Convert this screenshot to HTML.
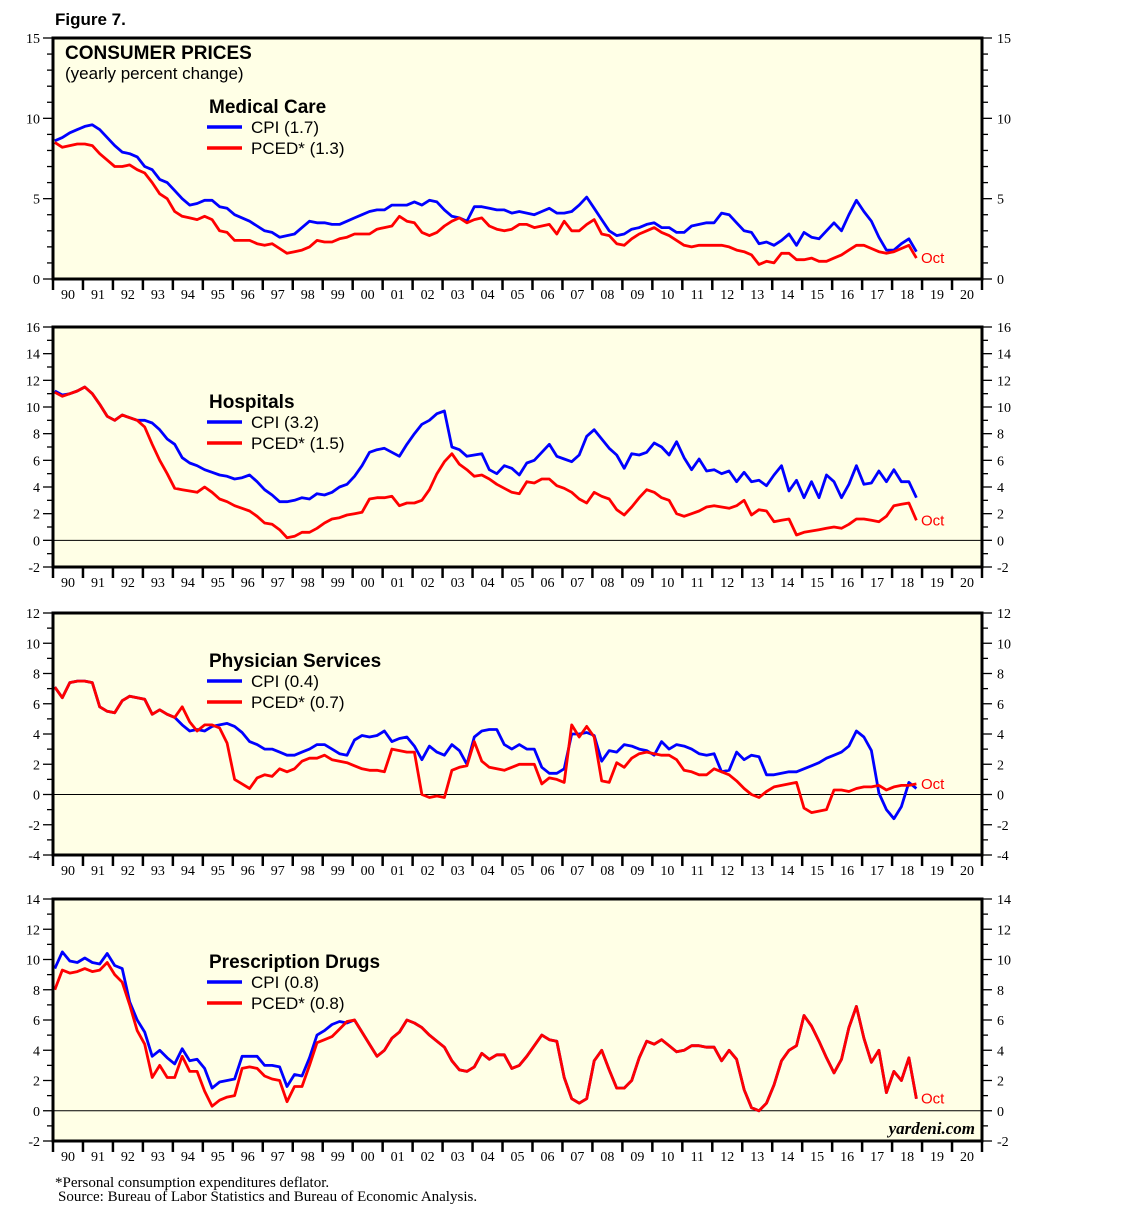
<!DOCTYPE html>
<html><head><meta charset="utf-8">
<style>
html,body{margin:0;padding:0;background:#fff;}
body{width:1138px;height:1217px;overflow:hidden;position:relative;}
svg text{font-family:"Liberation Serif",serif;}
.sans{font-family:"Liberation Sans",sans-serif !important;}
</style></head>
<body>
<svg id="chart" width="1138" height="1217" viewBox="0 0 1138 1217" xmlns="http://www.w3.org/2000/svg">
<text class="sans" x="55" y="25" font-size="17" font-weight="bold">Figure 7.</text>
<text x="55" y="1187" font-size="15">*Personal consumption expenditures deflator.</text>
<text x="58" y="1201" font-size="15">Source: Bureau of Labor Statistics and Bureau of Economic Analysis.</text>
</svg>
<script>
const yearLabels = ["90","91","92","93","94","95","96","97","98","99","00","01","02","03","04","05","06","07","08","09","10","11","12","13","14","15","16","17","18","19","20"];

const medCpi = [8.6,8.8,9.1,9.3, 9.5,9.6,9.3,8.8, 8.3,7.9,7.8,7.6, 7.0,6.8,6.2,6.0, 5.5,5.0,4.6,4.7, 4.9,4.9,4.5,4.4, 4.0,3.8,3.6,3.3, 3.0,2.9,2.6,2.7, 2.8,3.2,3.6,3.5, 3.5,3.4,3.4,3.6, 3.8,4.0,4.2,4.3, 4.3,4.6,4.6,4.6, 4.8,4.6,4.9,4.8, 4.3,3.9,3.8,3.6, 4.5,4.5,4.4,4.3, 4.3,4.1,4.2,4.1, 4.0,4.2,4.4,4.1, 4.1,4.2,4.6,5.1, 4.4,3.7,3.0,2.7, 2.8,3.1,3.2,3.4, 3.5,3.2,3.2,2.9, 2.9,3.3,3.4,3.5, 3.5,4.1,4.0,3.5, 3.0,2.9,2.2,2.3, 2.1,2.4,2.8,2.1, 2.9,2.6,2.5,3.0, 3.5,3.0,4.0,4.9, 4.2,3.6,2.6,1.8, 1.8,2.2,2.5,1.7];
const medPced = [8.5,8.2,8.3,8.4, 8.4,8.3,7.8,7.4, 7.0,7.0,7.1,6.8, 6.6,6.0,5.3,5.0, 4.2,3.9,3.8,3.7, 3.9,3.7,3.0,2.9, 2.4,2.4,2.4,2.2, 2.1,2.2,1.9,1.6, 1.7,1.8,2.0,2.4, 2.3,2.3,2.5,2.6, 2.8,2.8,2.8,3.1, 3.2,3.3,3.9,3.6, 3.5,2.9,2.7,2.9, 3.3,3.6,3.8,3.5, 3.7,3.8,3.3,3.1, 3.0,3.1,3.4,3.4, 3.2,3.3,3.4,2.8, 3.6,3.0,3.0,3.4, 3.7,2.8,2.7,2.2, 2.1,2.5,2.8,3.0, 3.2,2.9,2.7,2.4, 2.1,2.0,2.1,2.1, 2.1,2.1,2.0,1.8, 1.7,1.5,0.9,1.1, 1.0,1.6,1.6,1.2, 1.2,1.3,1.1,1.1, 1.3,1.5,1.8,2.1, 2.1,1.9,1.7,1.6, 1.7,1.9,2.1,1.3];

const hospCpi = [11.2,10.9,11.0,11.2, 11.5,11.0,10.2,9.3, 9.0,9.4,9.2,9.0, 9.0,8.8,8.3,7.6, 7.2,6.2,5.8,5.6, 5.3,5.1,4.9,4.8, 4.6,4.7,4.9,4.4, 3.8,3.4,2.9,2.9, 3.0,3.2,3.1,3.5, 3.4,3.6,4.0,4.2, 4.8,5.6,6.6,6.8, 6.9,6.6,6.3,7.2, 8.0,8.7,9.0,9.5, 9.7,7.0,6.8,6.3, 6.4,6.5,5.3,5.0, 5.6,5.4,4.9,5.8, 6.0,6.6,7.2,6.3, 6.1,5.9,6.4,7.8, 8.3,7.6,6.9,6.4, 5.4,6.5,6.4,6.6, 7.3,7.0,6.4,7.4, 6.2,5.3,6.1,5.2, 5.3,5.0,5.2,4.4, 5.1,4.4,4.5,4.1, 4.9,5.6,3.7,4.5, 3.2,4.4,3.2,4.9, 4.4,3.2,4.2,5.6, 4.2,4.3,5.2,4.4, 5.3,4.4,4.4,3.2];
const hospPced = [11.1,10.8,11.0,11.2, 11.5,11.0,10.2,9.3, 9.0,9.4,9.2,9.0, 8.5,7.2,6.0,5.0, 3.9,3.8,3.7,3.6, 4.0,3.6,3.1,2.9, 2.6,2.4,2.2,1.8, 1.3,1.2,0.8,0.2, 0.3,0.6,0.6,0.9, 1.3,1.6,1.7,1.9, 2.0,2.1,3.1,3.2, 3.2,3.3,2.6,2.8, 2.8,3.0,3.8,5.0, 5.9,6.5,5.7,5.3, 4.8,4.9,4.6,4.2, 3.9,3.6,3.5,4.4, 4.3,4.6,4.6,4.1, 3.9,3.6,3.1,2.8, 3.6,3.3,3.1,2.3, 1.9,2.5,3.2,3.8, 3.6,3.2,3.0,2.0, 1.8,2.0,2.2,2.5, 2.6,2.5,2.4,2.6, 3.0,1.9,2.3,2.2, 1.4,1.5,1.6,0.4, 0.6,0.7,0.8,0.9, 1.0,0.9,1.2,1.6, 1.6,1.5,1.4,1.8, 2.6,2.7,2.8,1.5];

const physCpi = [7.1,6.4,7.4,7.5, 7.5,7.4,5.8,5.5, 5.4,6.2,6.5,6.4, 6.3,5.3,5.6,5.3, 5.1,4.6,4.2,4.3, 4.2,4.5,4.6,4.7, 4.5,4.1,3.5,3.3, 3.0,3.0,2.8,2.6, 2.6,2.8,3.0,3.3, 3.3,3.0,2.7,2.6, 3.6,3.9,3.8,3.9, 4.2,3.5,3.7,3.8, 3.2,2.3,3.2,2.8, 2.6,3.3,2.9,2.0, 3.8,4.2,4.3,4.3, 3.3,3.0,3.3,3.0, 3.0,1.8,1.4,1.4, 1.7,4.0,4.0,4.1, 3.9,2.2,2.9,2.8, 3.3,3.2,3.0,2.9, 2.6,3.5,3.0,3.3, 3.2,3.0,2.7,2.6, 2.7,1.5,1.6,2.8, 2.3,2.6,2.5,1.3, 1.3,1.4,1.5,1.5, 1.7,1.9,2.1,2.4, 2.6,2.8,3.2,4.2, 3.8,2.9,0.1,-1.0, -1.6,-0.8,0.8,0.4];
const physPced = [7.1,6.4,7.4,7.5, 7.5,7.4,5.8,5.5, 5.4,6.2,6.5,6.4, 6.3,5.3,5.6,5.3, 5.1,5.8,4.8,4.2, 4.6,4.6,4.4,3.4, 1.0,0.7,0.4,1.1, 1.3,1.2,1.7,1.5, 1.7,2.2,2.4,2.4, 2.6,2.3,2.2,2.1, 1.9,1.7,1.6,1.6, 1.5,3.0,2.9,2.8, 2.8,0.0,-0.2,-0.1, -0.2,1.6,1.8,1.9, 3.5,2.2,1.8,1.7, 1.6,1.8,2.0,2.0, 2.0,0.7,1.1,1.0, 0.8,4.6,3.8,4.5, 3.8,0.9,0.8,2.1, 1.8,2.4,2.7,2.8, 2.7,2.6,2.6,2.3, 1.6,1.5,1.3,1.3, 1.7,1.5,1.3,0.9, 0.4,0.0,-0.2,0.2, 0.5,0.6,0.7,0.8, -0.9,-1.2,-1.1,-1.0, 0.3,0.3,0.2,0.4, 0.5,0.5,0.6,0.3, 0.5,0.6,0.6,0.7];

const rxCpi = [9.4,10.5,9.9,9.8, 10.1,9.8,9.7,10.4, 9.6,9.4,7.2,6.0, 5.2,3.6,4.0,3.5, 3.1,4.1,3.3,3.4, 2.8,1.5,1.9,2.0, 2.1,3.6,3.6,3.6, 3.0,3.0,2.9,1.6, 2.4,2.3,3.5,5.0, 5.3,5.7,5.9,5.8, 6.0,5.2,4.4,3.6, 4.0,4.8,5.2,6.0, 5.8,5.5,5.0,4.6, 4.2,3.3,2.7,2.6, 2.9,3.8,3.4,3.7, 3.7,2.8,3.0,3.6, 4.3,5.0,4.7,4.6, 2.2,0.8,0.5,0.8, 3.3,4.0,2.7,1.5, 1.5,2.0,3.5,4.6, 4.4,4.7,4.3,3.9, 4.0,4.3,4.3,4.2, 4.2,3.3,4.0,3.4, 1.4,0.2,0.0,0.5, 1.7,3.3,4.0,4.3, 6.3,5.6,4.6,3.5, 2.5,3.4,5.5,6.9, 4.8,3.2,4.0,1.2, 2.6,2.0,3.5,0.8];
const rxPced = [8.0,9.3,9.1,9.2, 9.4,9.2,9.3,9.8, 9.0,8.5,7.0,5.3, 4.4,2.2,3.0,2.2, 2.2,3.6,2.6,2.6, 1.3,0.3,0.7,0.9, 1.0,2.8,2.9,2.8, 2.3,2.1,2.0,0.6, 1.6,1.6,3.0,4.5, 4.7,4.9,5.4,5.9, 6.0,5.2,4.4,3.6, 4.0,4.8,5.2,6.0, 5.8,5.5,5.0,4.6, 4.2,3.3,2.7,2.6, 2.9,3.8,3.4,3.7, 3.7,2.8,3.0,3.6, 4.3,5.0,4.7,4.6, 2.2,0.8,0.5,0.8, 3.3,4.0,2.7,1.5, 1.5,2.0,3.5,4.6, 4.4,4.7,4.3,3.9, 4.0,4.3,4.3,4.2, 4.2,3.3,4.0,3.4, 1.4,0.2,0.0,0.5, 1.7,3.3,4.0,4.3, 6.3,5.6,4.6,3.5, 2.5,3.4,5.5,6.9, 4.8,3.2,4.0,1.2, 2.6,2.0,3.5,0.8];

const panelTitles = ["Medical Care","Hospitals","Physician Services","Prescription Drugs"];
const cpiLegend = ["CPI (1.7)","CPI (3.2)","CPI (0.4)","CPI (0.8)"];
const pcedLegend = ["PCED* (1.3)","PCED* (1.5)","PCED* (0.7)","PCED* (0.8)"];

const NS = "http://www.w3.org/2000/svg";
const svg = document.getElementById('chart');
const X0 = 53, X1 = 982, startYear = 1990, endYear = 2021;
function xScale(t){ return X0 + (t - startYear) * (X1 - X0) / (endYear - startYear); }
function mk(tag, attrs, parent){
  const e = document.createElementNS(NS, tag);
  for (const k in attrs) e.setAttribute(k, attrs[k]);
  (parent || svg).appendChild(e);
  return e;
}
const panels = [
  {top:38,bottom:279,min:0,max:15,step:5,minor:1,cpi:medCpi,pced:medPced,titleY:113,zero:false},
  {top:327,bottom:567,min:-2,max:16,step:2,minor:1,cpi:hospCpi,pced:hospPced,titleY:408,zero:true},
  {top:613,bottom:855,min:-4,max:12,step:2,minor:1,cpi:physCpi,pced:physPced,titleY:667,zero:true},
  {top:899,bottom:1141,min:-2,max:14,step:2,minor:1,cpi:rxCpi,pced:rxPced,titleY:968,zero:true}
];
panels.forEach((p, pi) => {
  const g = mk('g', {});
  
  
  const yScale = v => p.bottom - (v - p.min) * (p.bottom - p.top) / (p.max - p.min);
  const bg = mk('rect', {x:X0, y:p.top, width:X1-X0, height:p.bottom-p.top, fill:'#ffffe6'}, g);
  
  
  for (let v = p.min; v <= p.max + 1e-9; v += p.minor) {
    const y = yScale(v);
    const major = Math.abs(v % p.step) < 1e-9;
    const len = major ? 10 : 6;
    mk('line', {x1:X0-len, x2:X0, y1:y, y2:y, stroke:'#000', 'stroke-width':1.3}, g);
    mk('line', {x1:X1, x2:X1+len, y1:y, y2:y, stroke:'#000', 'stroke-width':1.3}, g);
    if (major) {
      const tl = mk('text', {x:X0-13, y:y+5, 'font-size':14, 'text-anchor':'end'}, g);
      tl.textContent = String(v);
      
      
      const tr = mk('text', {x:X1+15, y:y+5, 'font-size':14}, g);
      tr.textContent = String(v);
      
      
    }
  }
  for (let i = 0; i <= yearLabels.length; i++) {
    const x = xScale(startYear + i);
    mk('line', {x1:x, x2:x, y1:p.bottom, y2:p.bottom+11, stroke:'#000', 'stroke-width':2.5}, g);
    if (i < yearLabels.length) {
      const t = mk('text', {x:xScale(startYear + i + 0.5), y:p.bottom+20, 'font-size':14, 'text-anchor':'middle'}, g);
      t.textContent = yearLabels[i];
      
      
    }
  }
  if (p.zero) {
    const z = mk('line', {x1:X0, x2:X1, y1:yScale(0), y2:yScale(0), stroke:'#000', 'stroke-width':1}, g);
    
    
  }
  const toPath = arr => arr.map((v, i) => (i ? 'L' : 'M') + xScale(startYear + i / 4 + 0.06).toFixed(1) + ',' + yScale(v).toFixed(1)).join('');
  const cpiLine = mk('path', {d:toPath(p.cpi), fill:'none', stroke:'#0000ff', 'stroke-width':2.8, 'stroke-linejoin':'round'}, g);
  
  
  const pcedLine = mk('path', {d:toPath(p.pced), fill:'none', stroke:'#ff0000', 'stroke-width':2.8, 'stroke-linejoin':'round'}, g);
  
  
  const last = p.pced[p.pced.length - 1];
  const oct = mk('text', {x:921, y:yScale(last)+5, 'font-size':15, fill:'#ff0000', class:'sans'}, g);
  oct.textContent = 'Oct';
  
  
  const border = mk('rect', {x:X0, y:p.top, width:X1-X0, height:p.bottom-p.top, fill:'none', stroke:'#000', 'stroke-width':3}, g);
  
  
  const tt = mk('text', {x:209, y:p.titleY, 'font-size':19, 'font-weight':'bold', class:'sans'}, g);
  tt.textContent = panelTitles[pi];
  
  
  const l1 = mk('line', {x1:207, x2:242, y1:p.titleY+14, y2:p.titleY+14, stroke:'#0000ff', 'stroke-width':3.5}, g);
  
  
  const lt1 = mk('text', {x:251, y:p.titleY+20, 'font-size':17, class:'sans'}, g);
  lt1.textContent = cpiLegend[pi];
  
  
  const l2 = mk('line', {x1:207, x2:242, y1:p.titleY+35, y2:p.titleY+35, stroke:'#ff0000', 'stroke-width':3.5}, g);
  
  
  const lt2 = mk('text', {x:251, y:p.titleY+41, 'font-size':17, class:'sans'}, g);
  lt2.textContent = pcedLegend[pi];
  
  
});
const h1 = mk('text', {x:65, y:59, 'font-size':19, 'font-weight':'bold', class:'sans'});
h1.textContent = 'CONSUMER PRICES';


const h2 = mk('text', {x:65, y:79, 'font-size':17, class:'sans'});
h2.textContent = '(yearly percent change)';


const yd = mk('text', {x:975, y:1134, 'font-size':17, 'font-style':'italic', 'font-weight':'bold', 'text-anchor':'end'});
yd.textContent = 'yardeni.com';


</script>
</body></html>
